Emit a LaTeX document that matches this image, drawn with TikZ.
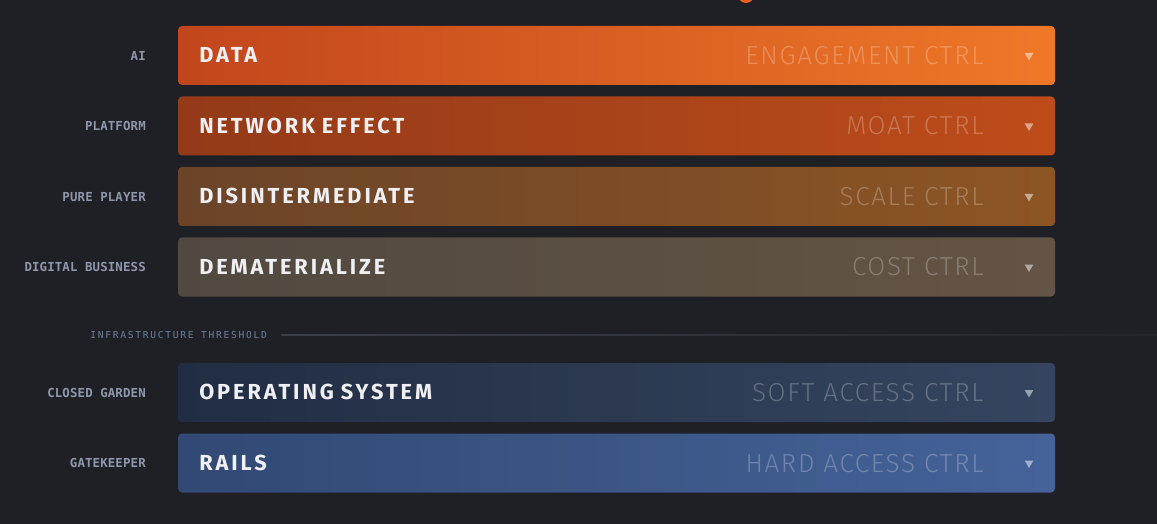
\documentclass[tikz,border=0pt]{standalone}
\usepackage{fontspec}
\usetikzlibrary{shapes.geometric}
\setmainfont{Fira Sans}
\newfontfamily\titlefont[LetterSpace=13.5,WordSpace=0.85]{Fira Sans}
\newfontfamily\ctrlfont[LetterSpace=6.5]{Fira Sans Light}
\newfontfamily\labfont[LetterSpace=1]{DejaVu Sans Mono}
\newfontfamily\thrfont[LetterSpace=18]{DejaVu Sans Mono}

\definecolor{bg}{HTML}{1F2025}
\definecolor{labgray}{HTML}{8E97AB}
\definecolor{thrblue}{HTML}{6E7F9C}
\definecolor{rulegray}{HTML}{3C3E46}
\definecolor{titlewhite}{HTML}{F0F0F4}
\definecolor{dotorange}{HTML}{E8601C}
\definecolor{dataL}{HTML}{C2461C}
\definecolor{dataR}{HTML}{EF7828}
\definecolor{netL}{HTML}{933A18}
\definecolor{netR}{HTML}{BE4C1A}
\definecolor{disL}{HTML}{6B4428}
\definecolor{disR}{HTML}{8D5524}
\definecolor{demL}{HTML}{514940}
\definecolor{demR}{HTML}{645445}
\definecolor{osL}{HTML}{212D43}
\definecolor{osR}{HTML}{36455F}
\definecolor{railL}{HTML}{314973}
\definecolor{railR}{HTML}{45639A}

\tikzset{
  bar/.style={rectangle, rounded corners=3pt, inner sep=0pt,
    minimum width=657.75pt, minimum height=44.25pt},
  bartitle/.style={anchor=west, inner sep=0pt, text=titlewhite,
    font=\titlefont\bfseries\fontsize{16.3pt}{16.3pt}\selectfont,
    text height=11.2pt, text depth=0pt},
  ctrl/.style={anchor=east, inner sep=0pt, text=white, text opacity=0.25,
    font=\ctrlfont\fontsize{19.5pt}{19.5pt}\selectfont,
    text height=13.5pt, text depth=0pt},
  drop/.style={regular polygon, regular polygon sides=3, shape border rotate=180,
    inner sep=0pt, minimum size=7.5pt, fill=white, fill opacity=0.5},
  tier/.style={anchor=east, inner sep=0pt, text=labgray,
    font=\labfont\bfseries\fontsize{9.3pt}{9.3pt}\selectfont,
    text height=6.8pt, text depth=0pt}
}

\begin{document}
\begin{tikzpicture}[x=0.75pt,y=-0.75pt]
		%background
		\fill[bg] (0,0) rectangle (1157,524);
		\useasboundingbox (0,0) rectangle (1157,524);
		\fill[dotorange] (746,-5) circle (8);
		
		%data
		\node[bar, left color=dataL, right color=dataR] (data) at (616.5,55.5) {};
		\node[bartitle] (dataT) at (199,55.5) {DATA};
		\node[ctrl] (dataC) at (984,55.5) {ENGAGEMENT CTRL};
		\node[drop] (dataD) at (1029,55.5) {};
		\node[tier] (dataL) at (146,55.5) {AI};
		
		%network effect
		\node[bar, left color=netL, right color=netR] (net) at (616.5,126) {};
		\node[bartitle] (netT) at (199,126) {NETWORK EFFECT};
		\node[ctrl] (netC) at (984,126) {MOAT CTRL};
		\node[drop] (netD) at (1029,126) {};
		\node[tier] (netL) at (146,126) {PLATFORM};
		
		%disintermediate
		\node[bar, left color=disL, right color=disR] (dis) at (616.5,196.5) {};
		\node[bartitle] (disT) at (199,196.5) {DISINTERMEDIATE};
		\node[ctrl] (disC) at (984,196.5) {SCALE CTRL};
		\node[drop] (disD) at (1029,196.5) {};
		\node[tier] (disL) at (146,196.5) {PURE PLAYER};
		
		%dematerialize
		\node[bar, left color=demL, right color=demR] (dem) at (616.5,267) {};
		\node[bartitle] (demT) at (199,267) {DEMATERIALIZE};
		\node[ctrl] (demC) at (984,267) {COST CTRL};
		\node[drop] (demD) at (1029,267) {};
		\node[tier] (demL) at (146,267) {DIGITAL BUSINESS};
		
		%threshold
		\node[anchor=west, inner sep=0pt, text=thrblue,
		  font=\thrfont\fontsize{7.2pt}{7.2pt}\selectfont,
		  text height=5.2pt, text depth=0pt] (thr) at (90,335) {INFRASTRUCTURE THRESHOLD};
		\coordinate (thrEnd) at (1157,335);
		\shade[left color=rulegray, right color=bg!80!rulegray]
		  ([xshift=10.5pt,yshift=0.6pt]thr.east) rectangle ([yshift=-0.6pt]thrEnd);
		
		%operating system
		\node[bar, left color=osL, right color=osR] (os) at (616.5,392.5) {};
		\node[bartitle] (osT) at (199,392.5) {OPERATING SYSTEM};
		\node[ctrl] (osC) at (984,392.5) {SOFT ACCESS CTRL};
		\node[drop] (osD) at (1029,392.5) {};
		\node[tier] (osL) at (146,392.5) {CLOSED GARDEN};
		
		%rails
		\node[bar, left color=railL, right color=railR] (rail) at (616.5,463) {};
		\node[bartitle] (railT) at (199,463) {RAILS};
		\node[ctrl] (railC) at (984,463) {HARD ACCESS CTRL};
		\node[drop] (railD) at (1029,463) {};
		\node[tier] (railL) at (146,463) {GATEKEEPER};
		
\end{tikzpicture}
\end{document}
